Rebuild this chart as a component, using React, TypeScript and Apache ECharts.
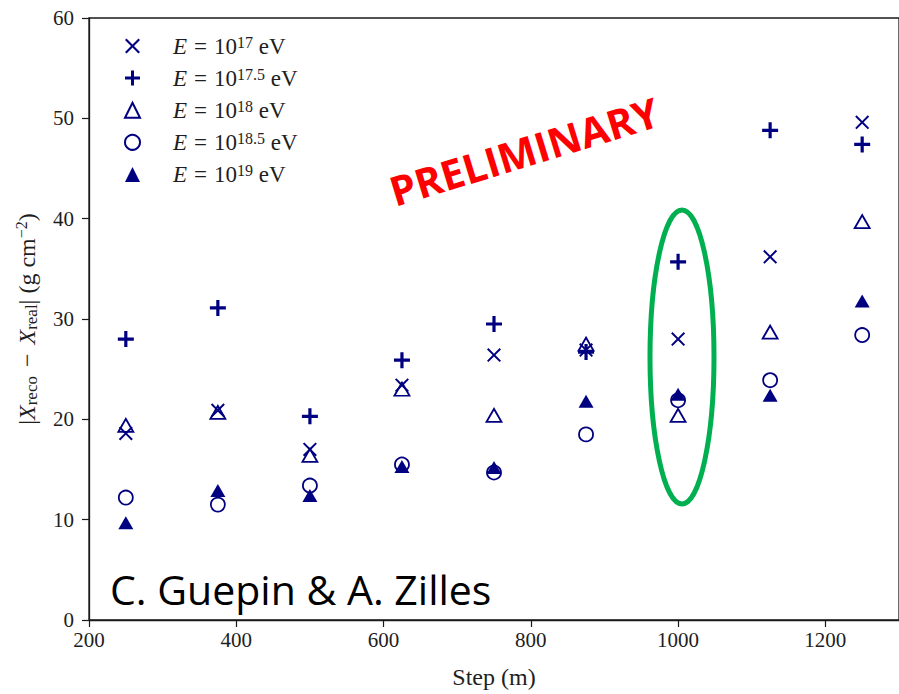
import React, { useEffect, useRef } from "react";
import * as echarts from "echarts";

// ---- data ----
const xSteps = [250, 375, 500, 625, 750, 875, 1000, 1125, 1250];
const e17 = [18.6, 20.9, 17.0, 23.4, 26.4, 26.9, 28.0, 36.2, 49.6];
const e175 = [28.0, 31.1, 20.3, 25.9, 29.5, 26.7, 35.7, 48.8, 47.4];
const e18 = [19.4, 20.7, 16.4, 23.0, 20.4, 27.5, 20.4, 28.7, 39.7];
const e185 = [12.2, 11.5, 13.4, 15.5, 14.7, 18.5, 21.9, 23.9, 28.4];
const e19 = [9.7, 12.9, 12.4, 15.3, 15.2, 21.8, 22.5, 22.4, 31.8];
const exponents = ["17", "17.5", "18", "18.5", "19"];
const seriesNames = exponents.map((e) => `E = 10^${e} eV`);
const xTicks = { min: 200, max: 1300, interval: 200 };
const yTicks = { min: 0, max: 60, interval: 10 };

const NAVY = "#000080";
const TXT = "#1e1e1e";
const SERIF = '"Liberation Serif", "DejaVu Serif", serif';

const crossPath =
  "path://M0,1L1,0L5,4L9,0L10,1L6,5L10,9L9,10L5,6L1,10L0,9L4,5Z";
const plusPath = "path://M4,0H6V4H10V6H6V10H4V6H0V4H4Z";

export default function App() {
  const ref = useRef<HTMLDivElement>(null);
  useEffect(() => {
    if (!ref.current) return;
    const chart = echarts.init(ref.current, null, { renderer: "svg" });
    const pts = (vals: number[]) => xSteps.map((x, i) => [x, vals[i]]);
    const filled = { color: NAVY, borderWidth: 0, opacity: 1 };
    const hollow = {
      color: "rgba(0,0,0,0)",
      borderColor: NAVY,
      borderWidth: 1.8,
      opacity: 1,
    };
    const seriesDefs = [
      { vals: e17, symbol: crossPath, size: 14, style: filled },
      { vals: e175, symbol: plusPath, size: 16, style: filled },
      { vals: e18, symbol: "triangle", size: [15, 13], style: hollow },
      { vals: e185, symbol: "circle", size: 14, style: hollow },
      { vals: e19, symbol: "triangle", size: [15, 13], style: filled },
    ];
    const option: any = {
      animation: false,
      backgroundColor: "#ffffff",
      grid: {
        left: 89,
        right: -5,
        top: 18,
        bottom: 67,
        show: true,
        borderColor: "#1a1a1a",
        borderWidth: 1.3,
        containLabel: false,
      },
      legend: {
        orient: "vertical",
        left: 124,
        top: 34,
        padding: 0,
        itemWidth: 15,
        itemHeight: 15,
        itemGap: 8.6,
        selectedMode: false,
        data: seriesNames,
        formatter: (name: string) => {
          const i = seriesNames.indexOf(name);
          return `{g| }{it|E}{eq|=}{n|10}{sup|${exponents[i]}}{n| eV}`;
        },
        textStyle: {
          fontFamily: SERIF,
          fontSize: 23,
          color: TXT,
          rich: {
            g: { width: 28, fontSize: 23, lineHeight: 24 },
            it: { fontFamily: SERIF, fontStyle: "italic", fontSize: 23, lineHeight: 24, color: TXT },
            eq: { fontFamily: SERIF, fontSize: 23, lineHeight: 24, color: TXT, padding: [0, 7, 0, 7] },
            n: { fontFamily: SERIF, fontSize: 23, lineHeight: 24, color: TXT },
            sup: { fontFamily: SERIF, fontSize: 16, lineHeight: 15, verticalAlign: "top", color: TXT },
          },
        },
      },
      xAxis: {
        type: "value",
        min: xTicks.min,
        max: xTicks.max,
        interval: xTicks.interval,
        name: "Step (m)",
        nameLocation: "middle",
        nameGap: 45,
        nameTextStyle: { fontFamily: SERIF, fontSize: 24, color: TXT },
        axisLine: { show: true, lineStyle: { color: "#1a1a1a", width: 1.3 } },
        axisTick: { show: true, inside: false, length: 7, lineStyle: { color: "#1a1a1a", width: 1.2 } },
        axisLabel: {
          show: true,
          margin: 9,
          showMaxLabel: false,
          fontFamily: SERIF,
          fontSize: 21,
          color: TXT,
          formatter: (v: number) => String(v),
        },
        splitLine: { show: false },
      },
      yAxis: {
        type: "value",
        min: yTicks.min,
        max: yTicks.max,
        interval: yTicks.interval,
        name: "{t||}{i|X}{sub|reco}{op|−}{i|X}{sub|real}{t|| (g cm}{sup|−2}{t|)}",
        nameLocation: "middle",
        nameGap: 49,
        nameRotate: 90,
        nameTextStyle: {
          fontFamily: SERIF,
          fontSize: 24,
          color: TXT,
          rich: {
            t: { fontFamily: SERIF, fontSize: 24, lineHeight: 27, color: TXT },
            op: { fontFamily: SERIF, fontSize: 24, lineHeight: 27, color: TXT, padding: [0, 9, 0, 9] },
            i: { fontFamily: SERIF, fontStyle: "italic", fontSize: 24, lineHeight: 27, color: TXT },
            sub: { fontFamily: SERIF, fontSize: 17, lineHeight: 15, verticalAlign: "bottom", color: TXT },
            sup: { fontFamily: SERIF, fontSize: 16, lineHeight: 15, verticalAlign: "top", color: TXT },
          },
        },
        axisLine: { show: true, lineStyle: { color: "#1a1a1a", width: 1.3 } },
        axisTick: { show: true, inside: false, length: 7, lineStyle: { color: "#1a1a1a", width: 1.2 } },
        axisLabel: { show: true, margin: 15, fontFamily: SERIF, fontSize: 21, color: TXT },
        splitLine: { show: false },
      },
      series: seriesDefs.map((d, i) => ({
        type: "scatter",
        name: seriesNames[i],
        data: pts(d.vals),
        symbol: d.symbol,
        symbolSize: d.size,
        itemStyle: d.style,
        emphasis: { disabled: true },
        silent: true,
        z: 2 + i,
      })),
      graphic: [
        {
          type: "text",
          x: 524,
          y: 151,
          rotation: (17 * Math.PI) / 180,
          z: 50,
          style: {
            text: "PRELIMINARY",
            fill: "#ff0000",
            font: 'bold 41px "Open Sans"',
            textAlign: "center",
            textVerticalAlign: "middle",
          },
        },
        {
          type: "text",
          x: 110,
          y: 589,
          z: 50,
          style: {
            text: "C. Guepin & A. Zilles",
            fill: "#000000",
            font: '41px "Open Sans"',
            textAlign: "left",
            textVerticalAlign: "middle",
          },
        },
        {
          type: "ellipse",
          z: 50,
          shape: { cx: 682, cy: 357, rx: 32, ry: 147 },
          style: { fill: "none", stroke: "#00b050", lineWidth: 5 },
        },
      ],
    };
    chart.setOption(option);
    return () => chart.dispose();
  }, []);
  return (
    <div
      ref={ref}
      style={{ position: "absolute", left: 0, top: 0, width: 899, height: 694, background: "#fff" }}
    />
  );
}
